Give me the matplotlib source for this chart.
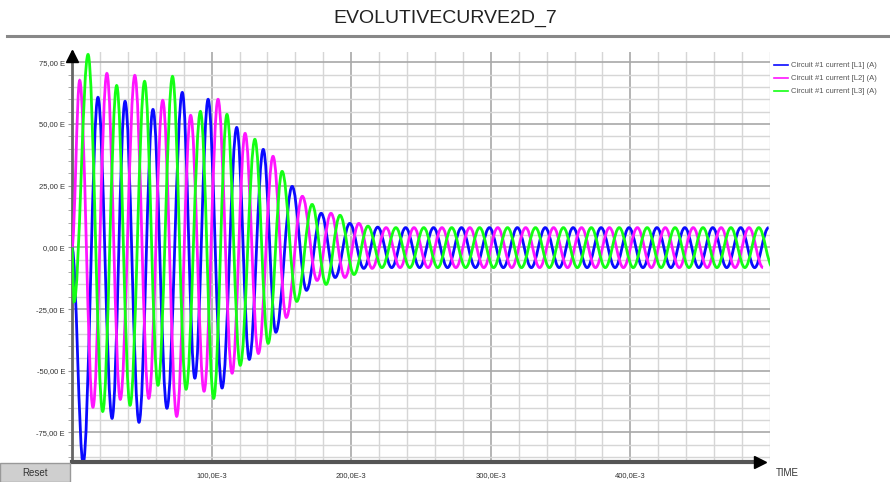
import matplotlib
matplotlib.use("Agg")
import matplotlib.pyplot as plt
from matplotlib.path import Path
from matplotlib.patches import PathPatch, Rectangle
from matplotlib.lines import Line2D

plt.rcParams['font.family'] = ['Liberation Sans', 'DejaVu Sans']

# extrema of each phase current: time (ms), value (A)
l1_t = [0, 8.0, 18.6, 28.7, 38.0, 48.0, 58.0, 68.0, 79.0, 88.0, 97.5, 107.5,
        118.0, 127.0, 137.0, 146.0, 157.7, 168.0, 178.5, 188.5, 199.0,
        209, 219, 229, 239, 249, 259, 269, 279, 289, 299, 309, 319, 329, 339,
        349, 359, 369, 379, 389, 399, 409, 419, 429, 439, 449, 459, 469, 479,
        489, 499]
l1_v = [0, -87.5, 60.8, -69.3, 59.2, -70.9, 55.9, -65.2, 62.8, -53.0, 60.0, -57.0,
        48.6, -45.4, 39.7, -34.4, 24.7, -17.4, 13.8, -12.2, 9.7,
        -8.5, 8.2, -8.2, 8.0, -8.2, 8.0, -8.2, 8.0, -8.2, 8.0, -8.2, 8.0, -8.2, 8.0,
        -8.2, 8.0, -8.2, 8.0, -8.2, 8.0, -8.2, 8.0, -8.2, 8.0, -8.2, 8.0, -8.2, 8.0,
        -8.2, 8.0]

l2_t = [0, 5.5, 15.0, 25.0, 34.6, 45.0, 55.0, 65.0, 75.0, 85.0, 94.6, 104.6,
        114.7, 124.0, 133.5, 144.0, 153.5, 165.0, 175.6, 185.5, 195.5, 205.5,
        215, 225, 235, 245, 255, 265, 275, 285, 295, 305, 315, 325, 335, 345,
        355, 365, 375, 385, 395, 405, 415, 425, 435, 445, 455, 465, 475, 485,
        495]
l2_v = [0, 67.7, -64.8, 70.5, -61.6, 69.7, -61.2, 59.6, -68.5, 53.5, -58.3, 60.0,
        -51.0, 46.2, -43.0, 36.9, -28.4, 20.7, -13.4, 13.8, -12.2, 9.7,
        -8.5, 8.0, -8.2, 8.0, -8.2, 8.0, -8.2, 8.0, -8.2, 8.0, -8.2, 8.0, -8.2, 8.0,
        -8.2, 8.0, -8.2, 8.0, -8.2, 8.0, -8.2, 8.0, -8.2, 8.0, -8.2, 8.0, -8.2, 8.0,
        -8.2]

l3_t = [0, 1.5, 11.5, 22.0, 32.0, 41.6, 52.0, 61.6, 72.0, 81.7, 92.0, 101.5,
        111.0, 120.5, 131.0, 140.5, 150.5, 161.0, 172.0, 182.0, 192.0, 202.0,
        212, 222, 232, 242, 252, 262, 272, 282, 292, 302, 312, 322, 332, 342,
        352, 362, 372, 382, 392, 402, 412, 422, 432, 442, 452, 462, 472, 482,
        492, 502]
l3_v = [0, -22.0, 78.2, -66.5, 65.6, -64.0, 67.3, -55.9, 69.3, -57.5, 55.1, -61.2,
        53.9, -47.8, 43.8, -38.9, 30.8, -21.9, 17.4, -15.0, 13.0, -11.0,
        8.6, -8.2, 8.0, -8.2, 8.0, -8.2, 8.0, -8.2, 8.0, -8.2, 8.0, -8.2, 8.0, -8.2,
        8.0, -8.2, 8.0, -8.2, 8.0, -8.2, 8.0, -8.2, 8.0, -8.2, 8.0, -8.2, 8.0, -8.2,
        8.0, -8.2]

labels = ['Circuit #1 current [L1] (A)', 'Circuit #1 current [L2] (A)',
          'Circuit #1 current [L3] (A)']
colors = ['#0a0aff', '#ff14ff', '#14ff14']

y_ticks = [-75, -50, -25, 0, 25, 50, 75]
y_labels = ['-75,00 E', '-50,00 E', '-25,00 E', '0,00 E', '25,00 E', '50,00 E', '75,00 E']
x_ticks = [100, 200, 300, 400]
x_labels = ['100,0E-3', '200,0E-3', '300,0E-3', '400,0E-3']


def wave(t, v):
    # smooth curve between extrema, drawn by matplotlib as cubic bezier
    verts = [(t[0], v[0])]
    codes = [Path.MOVETO]
    for i in range(1, len(t)):
        a = 0.363 * (t[i] - t[i - 1])
        verts += [(t[i - 1] + a, v[i - 1]), (t[i] - a, v[i]), (t[i], v[i])]
        codes += [Path.CURVE4] * 3
    return Path(verts, codes)


fig = plt.figure(figsize=(8.9, 4.82), dpi=100)
ax = fig.add_axes([72 / 890, 1 - 462 / 482, 698 / 890, 410 / 482])

for t, v, c in zip([l1_t, l2_t, l3_t], [l1_v, l2_v, l3_v], colors):
    ax.add_patch(PathPatch(wave(t, v), fill=False, edgecolor=c, lw=2.0, zorder=3))

ax.set_xlim(0, 500)
ax.set_ylim(-87, 79.2)

ax.set_xticks(x_ticks)
ax.set_xticklabels(x_labels, fontsize=5.5, color='#333333')
ax.set_xticks(range(0, 501, 20), minor=True)
ax.set_yticks(y_ticks)
ax.set_yticklabels(y_labels, fontsize=5.5, color='#333333')
ax.set_yticks(range(-85, 80, 5), minor=True)
ax.tick_params(axis='x', which='both', length=0, pad=7)
ax.tick_params(axis='y', which='both', length=3, color='#999999', pad=2)

ax.grid(which='major', color='#a8a8a8', lw=1.2, zorder=0)
ax.grid(which='minor', color='#d6d6d6', lw=1.0, zorder=0)
ax.set_axisbelow(True)

for s in ['top', 'right', 'bottom']:
    ax.spines[s].set_visible(False)
ax.spines['left'].set_color('#666666')
ax.spines['left'].set_linewidth(2)

# axis arrows
ax.plot([0, 0.985], [0, 0], transform=ax.transAxes, color='#555555', lw=3,
        clip_on=False, zorder=5)
ax.plot([0.985], [0], marker='>', ms=9, color='black', transform=ax.transAxes,
        clip_on=False, zorder=6)
ax.plot([0], [0.99], marker='^', ms=8, color='black', transform=ax.transAxes,
        clip_on=False, zorder=6)

handles = [Line2D([], [], color=c, lw=1.2) for c in colors]
ax.legend(handles, labels, loc='upper left', bbox_to_anchor=(1.0, 0.985),
          frameon=False, fontsize=5.5, handlelength=1.9, handletextpad=0.3,
          labelspacing=0.75, borderaxespad=0.1, labelcolor='#555555')

fig.text(0.5, 1 - 18 / 482, 'EVOLUTIVECURVE2D_7', ha='center', va='center',
         fontsize=14, color='#222222')
fig.add_artist(Line2D([7 / 890, 1], [1 - 36 / 482] * 2, color='#888888', lw=2.2))

fig.text(787 / 890, 1 - 473 / 482, 'TIME', ha='center', va='center', fontsize=7,
         color='#333333')

fig.add_artist(Rectangle((0, 0), 70 / 890, 19 / 482, facecolor='#cfcfcf',
                         edgecolor='#999999', lw=1, transform=fig.transFigure))
fig.text(35 / 890, 9.5 / 482, 'Reset', ha='center', va='center', fontsize=7,
         color='#333333')

fig.savefig('out.png', dpi=100)
